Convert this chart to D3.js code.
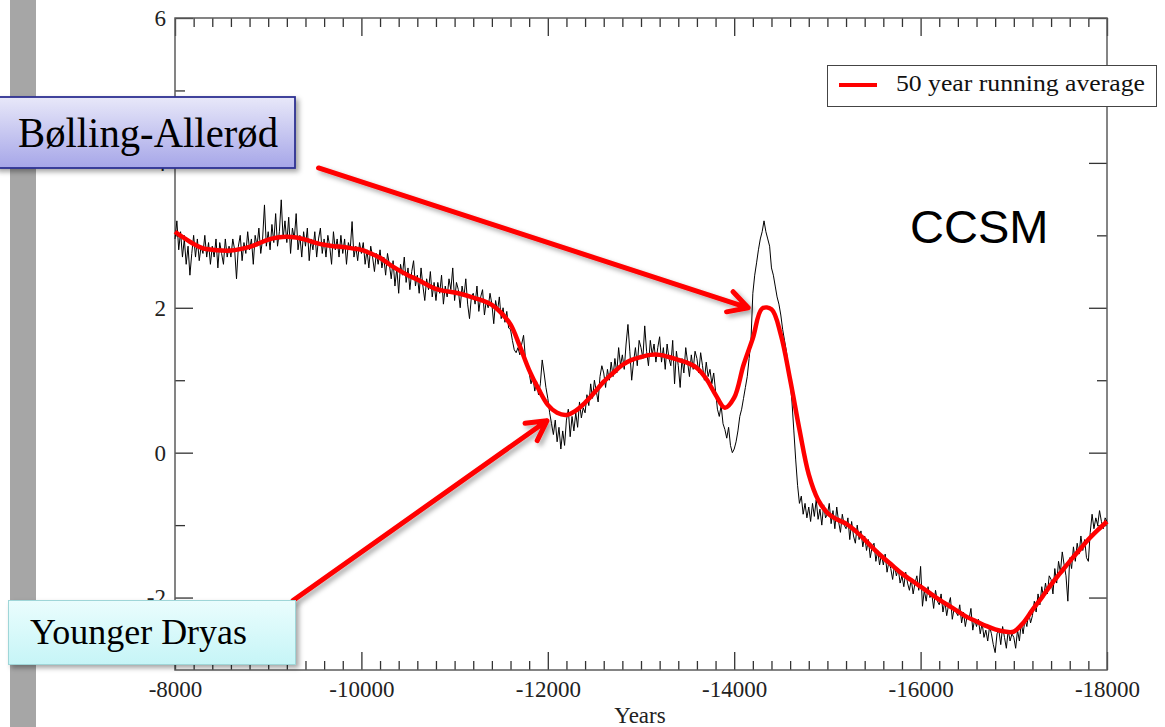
<!DOCTYPE html>
<html><head><meta charset="utf-8">
<script src="https://cdn.jsdelivr.net/npm/d3@7"></script>
<style>html,body{margin:0;padding:0;background:#fff;overflow:hidden}</style>
</head><body><svg id="c" width="1165" height="727"></svg>
<script>
// ---------- data ----------
const xMajorTicks = [-8000, -10000, -12000, -14000, -16000, -18000];
const yMajorTicks = [-2, 0, 2, 4, 6];
const yMinorTicks = [-1, 1, 3, 5];
const xAxisTitle = "Years";
const legendLabel = "50 year running average";
const modelLabel = "CCSM";

// raw model series, one value every 20 years starting at -8000
const rawStart = -8000, rawStep = -20;
const rawValues = [
 2.95,3.20,2.80,3.05,2.70,2.95,2.60,2.85,2.45,2.75,
 3.00,2.70,2.95,2.65,2.85,2.75,3.00,2.70,2.90,2.60,
 2.85,2.70,2.95,2.55,2.90,2.75,2.60,2.95,2.70,2.85,
 2.70,2.95,2.80,2.40,2.85,3.00,2.65,2.90,2.75,3.05,
 2.80,2.95,2.60,3.00,2.85,3.10,2.75,2.95,3.42,2.85,
 3.05,2.80,3.15,2.90,3.30,2.85,3.05,3.49,2.95,3.20,
 2.90,3.25,2.75,3.10,2.95,3.30,2.80,3.00,2.70,3.05,
 2.85,3.10,2.65,2.95,2.80,3.05,2.70,2.95,3.10,2.75,
 2.95,2.70,3.00,2.85,2.60,3.05,2.80,2.95,2.70,3.00,
 2.75,2.95,2.60,2.90,2.80,3.19,2.70,2.85,2.65,2.90,
 2.75,2.90,2.60,2.80,2.55,2.85,2.70,2.50,2.75,2.60,
 2.80,2.55,2.70,2.45,2.75,2.60,2.40,2.65,2.30,2.55,
 2.20,2.60,2.45,2.70,2.35,2.55,2.25,2.50,2.65,2.30,
 2.45,2.20,2.55,2.30,2.10,2.40,2.25,2.50,2.15,2.35,
 2.10,2.35,2.20,2.45,2.05,2.30,2.15,2.40,2.25,2.55,
 2.10,2.35,2.25,2.00,2.30,2.15,2.40,2.05,1.85,2.15,
 2.20,2.05,2.30,1.95,2.15,2.25,1.90,2.10,2.00,2.20,
 2.05,1.78,2.10,1.95,2.15,1.85,2.00,1.80,1.95,1.72,
 1.70,1.55,1.42,1.38,1.45,1.35,1.50,1.62,1.30,1.20,
 1.10,0.95,1.05,0.85,0.98,0.80,0.95,1.28,1.10,0.90,
 0.75,0.55,0.40,0.25,0.45,0.15,0.35,0.05,0.30,0.10,
 0.45,0.60,0.22,0.50,0.30,0.55,0.35,0.70,0.48,0.62,
 0.55,0.80,0.65,0.95,0.75,1.00,0.85,0.70,1.05,1.20,
 1.10,0.90,1.15,1.00,1.25,1.05,1.30,1.10,1.45,1.20,
 1.35,1.15,1.50,1.77,1.40,1.00,1.25,1.45,1.20,1.55,
 1.45,1.30,1.75,1.40,1.20,1.55,1.35,1.50,1.25,1.45,
 1.60,1.25,1.45,1.15,1.50,1.30,1.20,1.55,0.95,1.40,
 1.20,0.90,1.30,1.10,1.45,1.25,1.05,1.35,1.15,1.40,
 1.30,1.10,1.38,1.20,1.00,1.25,1.05,1.15,0.95,1.10,
 0.85,0.60,0.50,0.65,0.40,0.32,0.20,0.35,0.10,0.00,
 0.05,0.15,0.30,0.50,0.60,0.75,0.90,1.05,1.30,1.55,
 2.20,2.45,2.62,2.80,2.95,3.05,3.20,3.05,2.95,2.85,
 2.55,2.45,2.30,2.15,2.05,1.90,1.70,1.55,1.40,1.20,
 1.00,0.70,0.30,-0.10,-0.45,-0.70,-0.60,-0.85,-0.70,-0.90,
 -0.75,-0.95,-0.70,-0.88,-0.65,-0.92,-0.78,-1.00,-0.72,-0.90,
 -0.85,-0.70,-0.98,-0.80,-1.05,-0.75,-0.95,-1.10,-0.85,-1.00,
 -1.05,-0.90,-1.20,-0.95,-1.15,-1.25,-1.00,-1.20,-1.08,-1.30,
 -1.15,-1.35,-1.20,-1.45,-1.30,-1.25,-1.50,-1.35,-1.55,-1.40,
 -1.55,-1.40,-1.65,-1.50,-1.60,-1.75,-1.55,-1.70,-1.60,-1.80,
 -1.70,-1.85,-1.65,-1.80,-1.90,-1.75,-1.95,-1.80,-1.70,-1.90,
 -1.57,-2.12,-1.90,-2.05,-1.85,-2.00,-1.95,-2.15,-1.90,-2.05,
 -2.10,-1.95,-2.20,-2.05,-2.25,-2.10,-2.00,-2.30,-2.15,-2.20,
 -2.25,-2.10,-2.35,-2.20,-2.40,-2.25,-2.30,-2.15,-2.45,-2.30,
 -2.40,-2.30,-2.50,-2.35,-2.55,-2.45,-2.60,-2.40,-2.50,-2.65,
 -2.76,-2.50,-2.45,-2.65,-2.40,-2.55,-2.70,-2.45,-2.60,-2.50,
 -2.55,-2.70,-2.45,-2.60,-2.35,-2.50,-2.30,-2.40,-2.20,-2.35,
 -2.25,-2.05,-2.20,-1.95,-2.10,-1.85,-2.00,-1.80,-1.95,-1.70,
 -1.75,-1.95,-1.60,-1.80,-1.50,-1.65,-1.37,-1.55,-1.70,-2.05,
 -1.45,-1.60,-1.30,-1.50,-1.25,-1.40,-1.15,-1.35,-1.20,-1.45,
 -1.50,-1.10,-0.85,-1.05,-0.90,-1.00,-0.80,-0.95,-1.05,-0.90,
 -0.95
];

// 50-year running average, one value every 100 years starting at -8000
const avgStart = -8000, avgStep = -100;
const avgValues = [
 3.05,2.96,2.88,2.82,2.80,2.79,2.79,2.81,2.84,2.89,
 2.94,2.97,2.98,2.97,2.94,2.90,2.87,2.85,2.84,2.82,
 2.80,2.75,2.69,2.60,2.52,2.45,2.39,2.32,2.26,2.23,
 2.21,2.18,2.14,2.10,2.04,1.93,1.77,1.47,1.14,0.88,
 0.66,0.55,0.52,0.58,0.69,0.83,0.98,1.10,1.21,1.28,
 1.32,1.35,1.35,1.32,1.28,1.24,1.17,1.02,0.80,0.62,
 0.76,1.21,1.58,1.99,1.98,1.63,1.01,0.32,-0.30,-0.65,
 -0.83,-0.92,-0.98,-1.08,-1.20,-1.33,-1.45,-1.56,-1.67,-1.76,
 -1.85,-1.94,-2.03,-2.11,-2.19,-2.27,-2.33,-2.39,-2.44,-2.47,
 -2.47,-2.35,-2.17,-2.00,-1.82,-1.66,-1.50,-1.35,-1.20,-1.07,
 -0.95
];

// annotation arrows in data units: [fromYear, fromValue, toYear, toValue]
const arrowBA = [-9540, 3.93, -14150, 2.0];
const arrowYD = [-9266, -2.04, -11990, 0.44];
const labelBA = "Bølling-Allerød";
const labelYD = "Younger Dryas";

// ---------- chart ----------
const svg = d3.select("#c");
const W = 1165, H = 727;
const L = 175, R = 1107, T = 18, B = 670;
const x = d3.scaleLinear().domain([-8000, -18000]).range([L, R]);
const y = d3.scaleLinear().domain([-3, 6]).range([B, T]);
const fmt = d => String(d);

const defs = svg.append("defs");
const f = defs.append("filter").attr("id","sh").attr("x","-20%").attr("y","-20%").attr("width","140%").attr("height","160%");
f.append("feDropShadow").attr("dx",3).attr("dy",3).attr("stdDeviation",2.5).attr("flood-color","#000").attr("flood-opacity",0.35);
const g1 = defs.append("linearGradient").attr("id","gBA").attr("x1",0).attr("y1",0).attr("x2",0).attr("y2",1);
g1.append("stop").attr("offset","0%").attr("stop-color","#e8e8f9");
g1.append("stop").attr("offset","100%").attr("stop-color","#a6a6e8");
const g2 = defs.append("linearGradient").attr("id","gYD").attr("x1",0).attr("y1",0).attr("x2",0).attr("y2",1);
g2.append("stop").attr("offset","0%").attr("stop-color","#eafdfd");
g2.append("stop").attr("offset","100%").attr("stop-color","#c6f5f7");

svg.append("rect").attr("width",W).attr("height",H).attr("fill","#fff");
// grey slide bar
svg.append("rect").attr("x",10).attr("y",0).attr("width",26).attr("height",H).attr("fill","#a6a6a6");

const serif = "'Liberation Serif','Times New Roman',serif";

const xMinor = [];
for (let v = -8200; v > -18000; v -= 200) if (v % 2000 !== 0) xMinor.push(v);

function styleAxis(sel){
  sel.select(".domain").remove();
  sel.selectAll(".tick line").attr("stroke","#333").attr("stroke-width",1.3);
  sel.selectAll(".tick text").attr("fill","#222").style("font-family",serif).style("font-size","23px");
}
// bottom
svg.append("g").attr("transform",`translate(0,${B})`)
  .call(d3.axisBottom(x).tickValues(xMajorTicks).tickSize(-18).tickPadding(11).tickFormat(fmt))
  .call(styleAxis);
svg.append("g").attr("transform",`translate(0,${B})`)
  .call(d3.axisBottom(x).tickValues(xMinor).tickSize(-9).tickFormat(""))
  .call(styleAxis);
// top
svg.append("g").attr("transform",`translate(0,${T})`)
  .call(d3.axisTop(x).tickValues(xMajorTicks).tickSize(-18).tickFormat(""))
  .call(styleAxis);
svg.append("g").attr("transform",`translate(0,${T})`)
  .call(d3.axisTop(x).tickValues(xMinor).tickSize(-9).tickFormat(""))
  .call(styleAxis);
// left
svg.append("g").attr("transform",`translate(${L},0)`)
  .call(d3.axisLeft(y).tickValues(yMajorTicks).tickSize(-18).tickPadding(9).tickFormat(fmt))
  .call(styleAxis);
svg.append("g").attr("transform",`translate(${L},0)`)
  .call(d3.axisLeft(y).tickValues(yMinorTicks).tickSize(-10).tickFormat(""))
  .call(styleAxis);
// right
svg.append("g").attr("transform",`translate(${R},0)`)
  .call(d3.axisRight(y).tickValues(yMajorTicks).tickSize(-18).tickFormat(""))
  .call(styleAxis);
svg.append("g").attr("transform",`translate(${R},0)`)
  .call(d3.axisRight(y).tickValues(yMinorTicks).tickSize(-10).tickFormat(""))
  .call(styleAxis);

// frame
svg.append("rect").attr("x",L).attr("y",T).attr("width",R-L).attr("height",B-T)
  .attr("fill","none").attr("stroke","#5c5c5c").attr("stroke-width",1.5);

// x axis title
svg.append("text").attr("x",(L+R)/2-1).attr("y",723).attr("text-anchor","middle")
  .style("font-family",serif).style("font-size","23px").attr("fill","#222").text(xAxisTitle);

// series
const raw = rawValues.map((v,i)=>({yr: rawStart + i*rawStep, v}));
const avg = avgValues.map((v,i)=>({yr: avgStart + i*avgStep, v}));
svg.append("path").datum(raw)
  .attr("d", d3.line().x(d=>x(d.yr)).y(d=>y(d.v)))
  .attr("fill","none").attr("stroke","#000").attr("stroke-width",1).attr("stroke-linejoin","round");
svg.append("path").datum(avg)
  .attr("d", d3.line().curve(d3.curveCatmullRom.alpha(0.5)).x(d=>x(d.yr)).y(d=>y(d.v)))
  .attr("fill","none").attr("stroke","#ff0000").attr("stroke-width",4.5).attr("stroke-linejoin","round");

// model label
svg.append("text").attr("x",910).attr("y",243)
  .style("font-family","'Liberation Sans',Arial,sans-serif").style("font-size","47px").attr("fill","#000").text(modelLabel);

// legend
const lg = svg.append("g");
lg.append("rect").attr("x",827.5).attr("y",65.5).attr("width",329).attr("height",41)
  .attr("fill","#fff").attr("stroke","#444").attr("stroke-width",1);
lg.append("line").attr("x1",839).attr("x2",877).attr("y1",85).attr("y2",85).attr("stroke","#ff0000").attr("stroke-width",4);
lg.append("text").attr("x",896).attr("y",91).style("font-family",serif).style("font-size","23px")
  .attr("fill","#111").attr("textLength",249).attr("lengthAdjust","spacingAndGlyphs").text(legendLabel);

// arrows
function arrow(a){
  const x0=x(a[0]), y0=y(a[1]), x1=x(a[2]), y1=y(a[3]);
  const ang = Math.atan2(y1-y0, x1-x0);
  const len = 22, spread = 0.5;
  const p1 = [x1 - len*Math.cos(ang-spread), y1 - len*Math.sin(ang-spread)];
  const p2 = [x1 - len*Math.cos(ang+spread), y1 - len*Math.sin(ang+spread)];
  const gg = svg.append("g").attr("filter","url(#sh)");
  gg.append("path").attr("d",`M${x0},${y0}L${x1},${y1}M${p1[0]},${p1[1]}L${x1},${y1}L${p2[0]},${p2[1]}`)
    .attr("fill","none").attr("stroke","#ff0000").attr("stroke-width",5).attr("stroke-linecap","round").attr("stroke-linejoin","round");
}
arrow(arrowBA);
arrow(arrowYD);

// annotation boxes
const ba = svg.append("g");
ba.append("rect").attr("x",-5).attr("y",97).attr("width",300).attr("height",71)
  .attr("fill","url(#gBA)").attr("stroke","#2e3192").attr("stroke-width",1.8).attr("filter","url(#sh)");
ba.append("text").attr("x",18).attr("y",147).style("font-family",serif).style("font-size","43px")
  .attr("fill","#000").attr("textLength",260).attr("lengthAdjust","spacingAndGlyphs").text(labelBA);

const yd = svg.append("g");
yd.append("rect").attr("x",8.5).attr("y",600.5).attr("width",287).attr("height",64)
  .attr("fill","url(#gYD)").attr("stroke","#9fd6d8").attr("stroke-width",1).attr("filter","url(#sh)");
yd.append("text").attr("x",30).attr("y",644).style("font-family",serif).style("font-size","36px")
  .attr("fill","#000").attr("textLength",217).attr("lengthAdjust","spacingAndGlyphs").text(labelYD);
</script>
</body></html>
